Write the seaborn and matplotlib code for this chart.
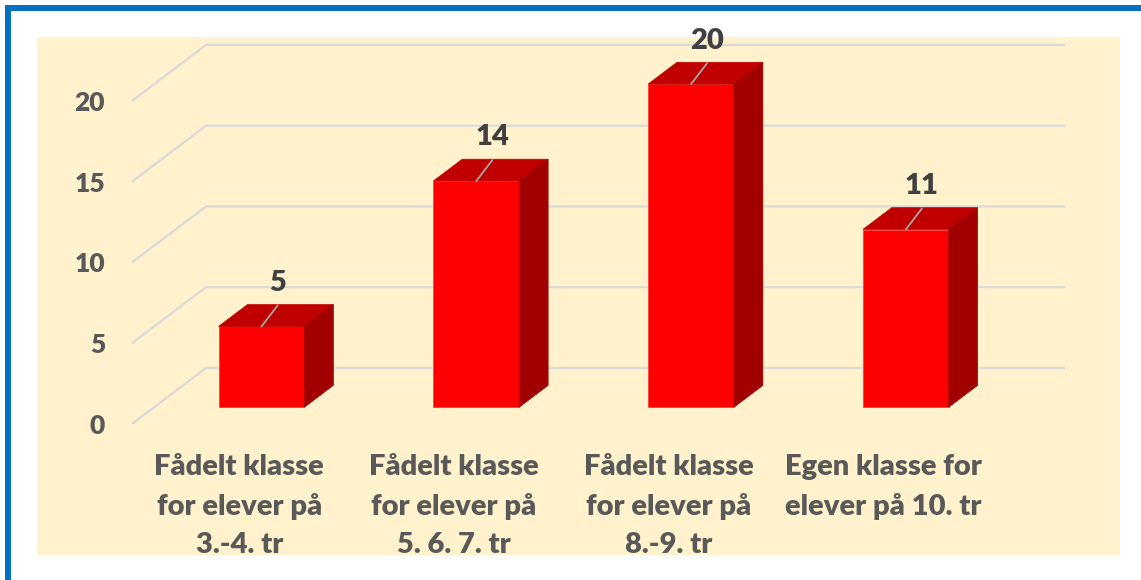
import numpy as np
import pandas as pd
import matplotlib
matplotlib.use("Agg")
import matplotlib.pyplot as plt
from matplotlib.patches import Polygon, Rectangle
import seaborn as sns

# chart data
categories = [
    "Fådelt klasse\nfor elever på\n3.-4. tr",
    "Fådelt klasse\nfor elever på\n5. 6. 7. tr",
    "Fådelt klasse\nfor elever på\n8.-9. tr",
    "Egen klasse for\nelever på 10. tr",
]
counts = [5, 14, 20, 11]
y_ticks = [0, 5, 10, 15, 20]

# 3D look (depth vector in data units)
DEPTH_X = 0.345
DEPTH_Y = 3.47
FRONT = 0.30   # where the bar front face sits in the depth
BAR_DEPTH = 0.39

FACE = "#FF0000"
TOP = "#C00000"
SIDE = "#A00000"
GRID = "#D9D9D9"
BG = "#FFF2CC"
TEXT = "#595959"

sns.set_theme(style="white")
plt.rcParams["font.family"] = ["Lato", "DejaVu Sans"]
plt.rcParams["font.weight"] = "bold"

fig = plt.figure(figsize=(11.41, 5.80), dpi=100)
fig.patch.set_facecolor("white")
ax = fig.add_axes([37 / 1141, 25 / 580, 1083 / 1141, 518 / 580])
ax.set_facecolor(BG)

df = pd.DataFrame({"category": categories, "count": counts})
sns.barplot(data=df, x="category", y="count", width=0.4, color=FACE,
            saturation=1, errorbar=None, edgecolor="#FF4040", linewidth=0.6,
            zorder=3, ax=ax)

n = len(categories)

# back-wall gridlines with the left diagonal
for v in y_ticks:
    ax.plot([-0.5, -0.5 + DEPTH_X, n - 0.5 + DEPTH_X],
            [v, v + DEPTH_Y, v + DEPTH_Y],
            color=GRID, lw=1.6, zorder=0.5, solid_capstyle="butt")

# move bars into the depth and add top / side faces
sx, sy = DEPTH_X * FRONT, DEPTH_Y * FRONT
bx, by = DEPTH_X * BAR_DEPTH, DEPTH_Y * BAR_DEPTH
for p, val in zip(ax.patches, counts):
    p.set_x(p.get_x() + sx)
    p.set_y(p.get_y() + sy)
    x0, y0 = p.get_x(), p.get_y()
    x1, y1 = x0 + p.get_width(), y0 + p.get_height()
    ax.add_patch(Polygon([(x0, y1), (x1, y1), (x1 + bx, y1 + by), (x0 + bx, y1 + by)],
                         closed=True, facecolor=TOP, edgecolor=TOP, lw=0.5, zorder=3))
    ax.add_patch(Polygon([(x1, y0), (x1 + bx, y0 + by), (x1 + bx, y1 + by), (x1, y1)],
                         closed=True, facecolor=SIDE, edgecolor=SIDE, lw=0.5, zorder=3))
    xc = (x0 + x1) / 2
    ax.plot([xc, xc + 0.075], [y1, y1 + 1.3], color="#A6A6A6", lw=1.3, zorder=4)
    ax.text(xc + 0.075, y1 + 2.7, str(val), ha="center", va="center",
            fontsize=21, fontweight="heavy", color="#404040", zorder=5)

ax.set_xlim(-0.942, 4.101)
ax.set_ylim(-8.11, 23.96)

ax.set_yticks(y_ticks)
ax.set_yticklabels([str(t) for t in y_ticks])
ax.tick_params(axis="y", length=0, pad=-49, labelsize=19, labelcolor=TEXT)
ax.set_xticks(range(n))
ax.set_xticklabels(categories, linespacing=1.6)
ax.tick_params(axis="x", length=0, pad=-73, labelsize=21, labelcolor=TEXT)
for lbl in ax.get_xticklabels() + ax.get_yticklabels():
    lbl.set_fontweight("heavy")
ax.set_xlabel("")
ax.set_ylabel("")
for s in ax.spines.values():
    s.set_visible(False)
ax.grid(False)

# blue outer frame (only top and left edges fall inside the picture)
fig.patches.append(Rectangle((8 / 1141, -0.1), 1.2, 1.1 - 8 / 580,
                             transform=fig.transFigure, fill=False,
                             edgecolor="#0070C0", lw=4.3))

fig.savefig("out.png", dpi=100)
